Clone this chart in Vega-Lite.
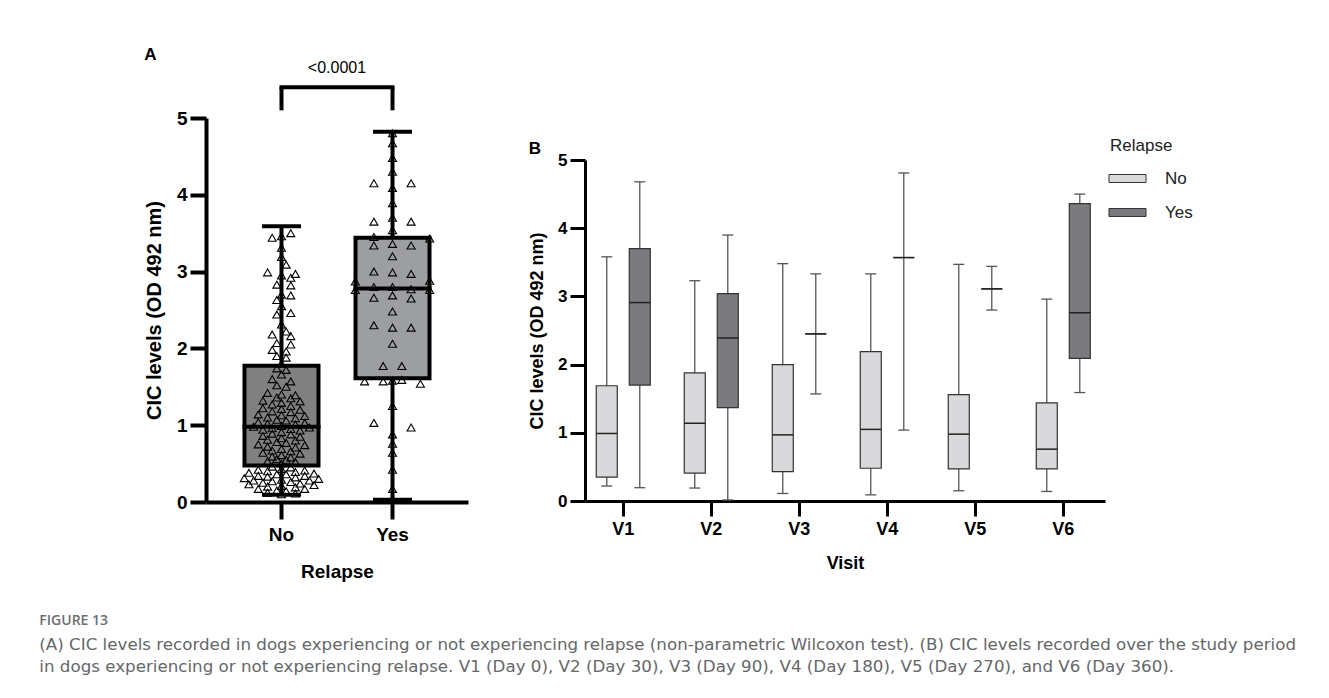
{
  "$schema": "https://vega.github.io/schema/vega-lite/v6.json",
  "width": 899,
  "height": 384,
  "autosize": {"type": "none"},
  "padding": {"left": 206, "top": 118, "right": 224, "bottom": 196},
  "background": "white",
  "config": {
    "view": {"stroke": null},
    "font": "Liberation Sans",
    "axis": {"grid": false}
  },
  "title": {
    "text": "FIGURE 13",
    "subtitle": [
      "(A) CIC levels recorded in dogs experiencing or not experiencing relapse (non-parametric Wilcoxon test). (B) CIC levels recorded over the study period",
      "in dogs experiencing or not experiencing relapse. V1 (Day 0), V2 (Day 30), V3 (Day 90), V4 (Day 180), V5 (Day 270), and V6 (Day 360)."
    ],
    "orient": "bottom",
    "anchor": "start",
    "frame": "bounds",
    "dx": -105,
    "offset": 33,
    "font": "Open Sans",
    "fontSize": 14,
    "fontWeight": 600,
    "color": "#6d6e71",
    "subtitleFont": "DejaVu Sans",
    "subtitleFontSize": 16.7,
    "subtitleFontWeight": "normal",
    "subtitleColor": "#666769",
    "subtitleLineHeight": 22,
    "subtitlePadding": 9
  },
  "datasets": {
    "boxA": [
      {"Relapse": "No", "min": 0.095, "q1": 0.476, "median": 0.98, "q3": 1.775, "max": 3.59},
      {"Relapse": "Yes", "min": 0.03, "q1": 1.61, "median": 2.78, "q3": 3.44, "max": 4.82}
    ],
    "pointsA": [
      {"Relapse": "No", "value": 3.50, "slot": 2}, {"Relapse": "No", "value": 3.44, "slot": -2}, {"Relapse": "No", "value": 3.46, "slot": 0},
      {"Relapse": "No", "value": 3.31, "slot": 0}, {"Relapse": "No", "value": 3.19, "slot": 0}, {"Relapse": "No", "value": 3.09, "slot": 1},
      {"Relapse": "No", "value": 2.99, "slot": -3}, {"Relapse": "No", "value": 2.97, "slot": 3}, {"Relapse": "No", "value": 2.95, "slot": 0},
      {"Relapse": "No", "value": 2.92, "slot": 2}, {"Relapse": "No", "value": 2.83, "slot": -1}, {"Relapse": "No", "value": 2.82, "slot": 2},
      {"Relapse": "No", "value": 2.70, "slot": 0}, {"Relapse": "No", "value": 2.69, "slot": 2}, {"Relapse": "No", "value": 2.63, "slot": -1},
      {"Relapse": "No", "value": 2.55, "slot": 0}, {"Relapse": "No", "value": 2.46, "slot": 2}, {"Relapse": "No", "value": 2.44, "slot": -1},
      {"Relapse": "No", "value": 2.31, "slot": 0}, {"Relapse": "No", "value": 2.22, "slot": 1}, {"Relapse": "No", "value": 2.18, "slot": -2},
      {"Relapse": "No", "value": 2.16, "slot": 2}, {"Relapse": "No", "value": 2.07, "slot": -1}, {"Relapse": "No", "value": 2.05, "slot": 2},
      {"Relapse": "No", "value": 1.98, "slot": -2}, {"Relapse": "No", "value": 1.96, "slot": 1}, {"Relapse": "No", "value": 1.90, "slot": -1},
      {"Relapse": "No", "value": 1.88, "slot": 1}, {"Relapse": "No", "value": 1.80, "slot": 0}, {"Relapse": "No", "value": 1.74, "slot": -1},
      {"Relapse": "No", "value": 1.72, "slot": 1}, {"Relapse": "No", "value": 1.66, "slot": 0}, {"Relapse": "No", "value": 1.60, "slot": -2},
      {"Relapse": "No", "value": 1.57, "slot": 2}, {"Relapse": "No", "value": 1.52, "slot": -1}, {"Relapse": "No", "value": 1.50, "slot": 1},
      {"Relapse": "No", "value": 1.42, "slot": -3}, {"Relapse": "No", "value": 1.40, "slot": 0}, {"Relapse": "No", "value": 1.39, "slot": 3},
      {"Relapse": "No", "value": 1.36, "slot": -1}, {"Relapse": "No", "value": 1.35, "slot": 2}, {"Relapse": "No", "value": 1.32, "slot": -4},
      {"Relapse": "No", "value": 1.31, "slot": 4}, {"Relapse": "No", "value": 1.29, "slot": 0}, {"Relapse": "No", "value": 1.27, "slot": -2},
      {"Relapse": "No", "value": 1.25, "slot": 2}, {"Relapse": "No", "value": 1.22, "slot": -4}, {"Relapse": "No", "value": 1.21, "slot": 0},
      {"Relapse": "No", "value": 1.20, "slot": 4}, {"Relapse": "No", "value": 1.18, "slot": -2}, {"Relapse": "No", "value": 1.17, "slot": 2},
      {"Relapse": "No", "value": 1.14, "slot": -5}, {"Relapse": "No", "value": 1.13, "slot": 0}, {"Relapse": "No", "value": 1.12, "slot": 5},
      {"Relapse": "No", "value": 1.10, "slot": -3}, {"Relapse": "No", "value": 1.09, "slot": 3}, {"Relapse": "No", "value": 1.07, "slot": -1},
      {"Relapse": "No", "value": 1.06, "slot": 1}, {"Relapse": "No", "value": 1.04, "slot": -5}, {"Relapse": "No", "value": 1.03, "slot": 5},
      {"Relapse": "No", "value": 1.02, "slot": -3}, {"Relapse": "No", "value": 1.01, "slot": 3}, {"Relapse": "No", "value": 0.99, "slot": 0},
      {"Relapse": "No", "value": 0.98, "slot": -6}, {"Relapse": "No", "value": 0.97, "slot": 6}, {"Relapse": "No", "value": 0.96, "slot": -2},
      {"Relapse": "No", "value": 0.95, "slot": 2}, {"Relapse": "No", "value": 0.94, "slot": -4}, {"Relapse": "No", "value": 0.93, "slot": 4},
      {"Relapse": "No", "value": 0.91, "slot": 0}, {"Relapse": "No", "value": 0.89, "slot": -2}, {"Relapse": "No", "value": 0.88, "slot": 2},
      {"Relapse": "No", "value": 0.86, "slot": -4}, {"Relapse": "No", "value": 0.85, "slot": 4}, {"Relapse": "No", "value": 0.83, "slot": 0},
      {"Relapse": "No", "value": 0.81, "slot": -3}, {"Relapse": "No", "value": 0.80, "slot": 3}, {"Relapse": "No", "value": 0.78, "slot": -1},
      {"Relapse": "No", "value": 0.77, "slot": 1}, {"Relapse": "No", "value": 0.75, "slot": -5}, {"Relapse": "No", "value": 0.74, "slot": 5},
      {"Relapse": "No", "value": 0.72, "slot": -3}, {"Relapse": "No", "value": 0.71, "slot": 3}, {"Relapse": "No", "value": 0.69, "slot": 0},
      {"Relapse": "No", "value": 0.67, "slot": -2}, {"Relapse": "No", "value": 0.66, "slot": 2}, {"Relapse": "No", "value": 0.64, "slot": -4},
      {"Relapse": "No", "value": 0.63, "slot": 4}, {"Relapse": "No", "value": 0.61, "slot": 0}, {"Relapse": "No", "value": 0.59, "slot": -2},
      {"Relapse": "No", "value": 0.58, "slot": 2}, {"Relapse": "No", "value": 0.56, "slot": -1}, {"Relapse": "No", "value": 0.55, "slot": 1},
      {"Relapse": "No", "value": 0.53, "slot": -3}, {"Relapse": "No", "value": 0.52, "slot": 3}, {"Relapse": "No", "value": 0.50, "slot": 0},
      {"Relapse": "No", "value": 0.46, "slot": -2}, {"Relapse": "No", "value": 0.45, "slot": 2}, {"Relapse": "No", "value": 0.43, "slot": 0},
      {"Relapse": "No", "value": 0.42, "slot": -5}, {"Relapse": "No", "value": 0.41, "slot": 5}, {"Relapse": "No", "value": 0.40, "slot": -3},
      {"Relapse": "No", "value": 0.39, "slot": 3}, {"Relapse": "No", "value": 0.38, "slot": -7}, {"Relapse": "No", "value": 0.37, "slot": 7},
      {"Relapse": "No", "value": 0.36, "slot": -1}, {"Relapse": "No", "value": 0.36, "slot": 1}, {"Relapse": "No", "value": 0.34, "slot": -5},
      {"Relapse": "No", "value": 0.34, "slot": 5}, {"Relapse": "No", "value": 0.33, "slot": -3}, {"Relapse": "No", "value": 0.32, "slot": 3},
      {"Relapse": "No", "value": 0.31, "slot": -8}, {"Relapse": "No", "value": 0.30, "slot": 8}, {"Relapse": "No", "value": 0.29, "slot": 0},
      {"Relapse": "No", "value": 0.28, "slot": -6}, {"Relapse": "No", "value": 0.28, "slot": 6}, {"Relapse": "No", "value": 0.27, "slot": -2},
      {"Relapse": "No", "value": 0.26, "slot": 2}, {"Relapse": "No", "value": 0.25, "slot": -4}, {"Relapse": "No", "value": 0.24, "slot": 4},
      {"Relapse": "No", "value": 0.23, "slot": -7}, {"Relapse": "No", "value": 0.22, "slot": 7}, {"Relapse": "No", "value": 0.21, "slot": 0},
      {"Relapse": "No", "value": 0.20, "slot": -3}, {"Relapse": "No", "value": 0.19, "slot": 3}, {"Relapse": "No", "value": 0.17, "slot": -5},
      {"Relapse": "No", "value": 0.17, "slot": 5}, {"Relapse": "No", "value": 0.15, "slot": -1}, {"Relapse": "No", "value": 0.14, "slot": 1},
      {"Relapse": "No", "value": 0.12, "slot": -3}, {"Relapse": "No", "value": 0.11, "slot": 3}, {"Relapse": "No", "value": 0.10, "slot": 0},
      {"Relapse": "Yes", "value": 4.80, "slot": 0}, {"Relapse": "Yes", "value": 4.67, "slot": 0}, {"Relapse": "Yes", "value": 4.48, "slot": 0},
      {"Relapse": "Yes", "value": 4.30, "slot": 0}, {"Relapse": "Yes", "value": 4.09, "slot": 0}, {"Relapse": "Yes", "value": 3.89, "slot": 0},
      {"Relapse": "Yes", "value": 3.70, "slot": 0}, {"Relapse": "Yes", "value": 3.54, "slot": 0}, {"Relapse": "Yes", "value": 3.36, "slot": 0},
      {"Relapse": "Yes", "value": 3.20, "slot": 0}, {"Relapse": "Yes", "value": 2.99, "slot": 0}, {"Relapse": "Yes", "value": 2.80, "slot": 0},
      {"Relapse": "Yes", "value": 2.69, "slot": 0}, {"Relapse": "Yes", "value": 2.48, "slot": 0}, {"Relapse": "Yes", "value": 2.27, "slot": 0},
      {"Relapse": "Yes", "value": 2.06, "slot": 0}, {"Relapse": "Yes", "value": 1.58, "slot": 0}, {"Relapse": "Yes", "value": 1.25, "slot": 0},
      {"Relapse": "Yes", "value": 0.88, "slot": 0}, {"Relapse": "Yes", "value": 0.76, "slot": 0}, {"Relapse": "Yes", "value": 0.64, "slot": 0},
      {"Relapse": "Yes", "value": 0.42, "slot": 0}, {"Relapse": "Yes", "value": 0.17, "slot": 0}, {"Relapse": "Yes", "value": 0.04, "slot": 0},
      {"Relapse": "Yes", "value": 4.15, "slot": -4}, {"Relapse": "Yes", "value": 3.65, "slot": -4}, {"Relapse": "Yes", "value": 3.45, "slot": -4},
      {"Relapse": "Yes", "value": 3.34, "slot": -4}, {"Relapse": "Yes", "value": 3.00, "slot": -4}, {"Relapse": "Yes", "value": 2.80, "slot": -4},
      {"Relapse": "Yes", "value": 2.66, "slot": -4}, {"Relapse": "Yes", "value": 2.30, "slot": -4}, {"Relapse": "Yes", "value": 1.03, "slot": -4},
      {"Relapse": "Yes", "value": 4.15, "slot": 4}, {"Relapse": "Yes", "value": 3.65, "slot": 4}, {"Relapse": "Yes", "value": 3.34, "slot": 4},
      {"Relapse": "Yes", "value": 2.97, "slot": 4}, {"Relapse": "Yes", "value": 2.77, "slot": 4}, {"Relapse": "Yes", "value": 2.65, "slot": 4},
      {"Relapse": "Yes", "value": 2.27, "slot": 4}, {"Relapse": "Yes", "value": 0.97, "slot": 4},
      {"Relapse": "Yes", "value": 1.77, "slot": -2}, {"Relapse": "Yes", "value": 1.57, "slot": -2}, {"Relapse": "Yes", "value": 1.77, "slot": 2},
      {"Relapse": "Yes", "value": 1.59, "slot": 2}, {"Relapse": "Yes", "value": 1.57, "slot": -6}, {"Relapse": "Yes", "value": 1.54, "slot": 6},
      {"Relapse": "Yes", "value": 2.87, "slot": -8}, {"Relapse": "Yes", "value": 2.76, "slot": -8}, {"Relapse": "Yes", "value": 3.43, "slot": 8},
      {"Relapse": "Yes", "value": 2.88, "slot": 8}, {"Relapse": "Yes", "value": 2.76, "slot": 8}
    ],
    "boxB": [
      {"Visit": "V1", "Relapse": "No", "min": 0.22, "q1": 0.35, "median": 0.99, "q3": 1.69, "max": 3.58},
      {"Visit": "V1", "Relapse": "Yes", "min": 0.195, "q1": 1.70, "median": 2.91, "q3": 3.70, "max": 4.68},
      {"Visit": "V2", "Relapse": "No", "min": 0.19, "q1": 0.41, "median": 1.14, "q3": 1.88, "max": 3.23},
      {"Visit": "V2", "Relapse": "Yes", "min": 0.015, "q1": 1.37, "median": 2.39, "q3": 3.04, "max": 3.90},
      {"Visit": "V3", "Relapse": "No", "min": 0.11, "q1": 0.43, "median": 0.97, "q3": 2.00, "max": 3.48},
      {"Visit": "V3", "Relapse": "Yes", "min": 1.57, "q1": 2.45, "median": 2.45, "q3": 2.45, "max": 3.33},
      {"Visit": "V4", "Relapse": "No", "min": 0.09, "q1": 0.48, "median": 1.05, "q3": 2.19, "max": 3.33},
      {"Visit": "V4", "Relapse": "Yes", "min": 1.04, "q1": 3.57, "median": 3.57, "q3": 3.57, "max": 4.81},
      {"Visit": "V5", "Relapse": "No", "min": 0.15, "q1": 0.47, "median": 0.98, "q3": 1.56, "max": 3.47},
      {"Visit": "V5", "Relapse": "Yes", "min": 2.80, "q1": 3.11, "median": 3.11, "q3": 3.11, "max": 3.44},
      {"Visit": "V6", "Relapse": "No", "min": 0.14, "q1": 0.47, "median": 0.76, "q3": 1.44, "max": 2.96},
      {"Visit": "V6", "Relapse": "Yes", "min": 1.59, "q1": 2.09, "median": 2.76, "q3": 4.36, "max": 4.50}
    ]
  },
  "layer": [
    {
      "encoding": {
        "x": {
          "field": "Relapse",
          "type": "nominal",
          "scale": {"domain": ["No", "Yes"], "range": [0, 262], "paddingInner": 0.33, "paddingOuter": 0.345},
          "axis": {
            "orient": "bottom", "title": "Relapse", "labelAngle": 0,
            "domainColor": "#000", "domainWidth": 4, "tickColor": "#000", "tickWidth": 4, "tickSize": 17,
            "labelFontSize": 19, "labelFontWeight": "bold", "labelColor": "#000", "labelPadding": 6,
            "titleFontSize": 19, "titleFontWeight": "bold", "titleColor": "#000", "titlePadding": 18
          }
        }
      },
      "layer": [
        {
          "data": {"name": "boxA"},
          "mark": {"type": "rule", "color": "#000", "strokeWidth": 4},
          "encoding": {
            "y": {
              "field": "min", "type": "quantitative", "scale": {"domain": [0, 5]},
              "axis": {
                "orient": "left", "values": [0, 1, 2, 3, 4, 5], "format": "d", "title": "CIC levels (OD 492 nm)",
                "domainColor": "#000", "domainWidth": 4, "tickColor": "#000", "tickWidth": 4, "tickSize": 16,
                "labelFontSize": 19, "labelFontWeight": "bold", "labelColor": "#000", "labelPadding": 3,
                "titleFontSize": 20, "titleFontWeight": "bold", "titleColor": "#000", "titlePadding": 12
              }
            },
            "y2": {"field": "max"}
          }
        },
        {
          "data": {"name": "boxA"},
          "mark": {"type": "bar", "stroke": "#000", "strokeWidth": 4, "width": 74},
          "encoding": {
            "y": {"field": "q1", "type": "quantitative", "scale": {"domain": [0, 5]}},
            "y2": {"field": "q3"},
            "fill": {"field": "Relapse", "type": "nominal", "scale": {"domain": ["No", "Yes"], "range": ["#808080", "#9c9ea2"]}, "legend": null}
          }
        },
        {
          "data": {"name": "boxA"},
          "mark": {"type": "tick", "color": "#000", "size": 39, "thickness": 4, "opacity": 1},
          "encoding": {"y": {"field": "max", "type": "quantitative", "scale": {"domain": [0, 5]}}}
        },
        {
          "data": {"name": "boxA"},
          "mark": {"type": "tick", "color": "#000", "size": 39, "thickness": 4, "opacity": 1},
          "encoding": {"y": {"field": "min", "type": "quantitative", "scale": {"domain": [0, 5]}}}
        },
        {
          "data": {"name": "pointsA"},
          "mark": {"type": "point", "shape": "triangle-up", "size": 64, "filled": false, "stroke": "#000", "strokeWidth": 1.1, "opacity": 1},
          "encoding": {
            "xOffset": {"field": "slot", "type": "ordinal", "scale": {"domain": [-8, -7, -6, -5, -4, -3, -2, -1, 0, 1, 2, 3, 4, 5, 6, 7, 8], "paddingInner": 0, "paddingOuter": 0}},
            "y": {"field": "value", "type": "quantitative", "scale": {"domain": [0, 5]}}
          }
        },
        {
          "data": {"name": "boxA"},
          "mark": {"type": "tick", "color": "#000", "size": 78, "thickness": 4, "opacity": 1},
          "encoding": {"y": {"field": "median", "type": "quantitative", "scale": {"domain": [0, 5]}}}
        },
        {
          "data": {"values": [{}]},
          "mark": {"type": "rule", "color": "#000", "strokeWidth": 4, "strokeCap": "square"},
          "encoding": {
            "x": {"datum": "No", "type": "nominal"},
            "x2": {"datum": "Yes"},
            "y": {"datum": 5.4, "type": "quantitative", "scale": {"domain": [0, 5]}}
          }
        },
        {
          "data": {"values": [{}]},
          "mark": {"type": "rule", "color": "#000", "strokeWidth": 4},
          "encoding": {
            "x": {"datum": "No", "type": "nominal"},
            "y": {"datum": 5.1, "type": "quantitative", "scale": {"domain": [0, 5]}},
            "y2": {"datum": 5.4}
          }
        },
        {
          "data": {"values": [{}]},
          "mark": {"type": "rule", "color": "#000", "strokeWidth": 4},
          "encoding": {
            "x": {"datum": "Yes", "type": "nominal"},
            "y": {"datum": 5.1, "type": "quantitative", "scale": {"domain": [0, 5]}},
            "y2": {"datum": 5.4}
          }
        },
        {
          "data": {"values": [{}]},
          "mark": {"type": "text", "text": "<0.0001", "fontSize": 16, "color": "#000", "align": "center", "baseline": "alphabetic", "dx": 55.5},
          "encoding": {
            "x": {"datum": "No", "type": "nominal"},
            "y": {"datum": 5.58, "type": "quantitative", "scale": {"domain": [0, 5]}}
          }
        },
        {
          "data": {"values": [{}]},
          "mark": {"type": "text", "text": "A", "fontSize": 17, "fontWeight": "bold", "color": "#000", "align": "center", "baseline": "alphabetic", "dx": -131},
          "encoding": {
            "x": {"datum": "No", "type": "nominal"},
            "y": {"datum": 5.75, "type": "quantitative", "scale": {"domain": [0, 5]}}
          }
        }
      ]
    },
    {
      "encoding": {
        "x": {
          "field": "Visit",
          "type": "nominal",
          "scale": {"domain": ["V1", "V2", "V3", "V4", "V5", "V6"], "range": [379, 899], "paddingInner": 0.2, "paddingOuter": 0.0545, "align": 0.32},
          "axis": {
            "orient": "bottom", "offset": -1, "title": "Visit", "labelAngle": 0,
            "domainColor": "#000", "domainWidth": 3, "tickColor": "#000", "tickWidth": 3, "tickSize": 15,
            "labelFontSize": 18, "labelFontWeight": "bold", "labelColor": "#000", "labelPadding": 4,
            "titleFontSize": 18, "titleFontWeight": "bold", "titleColor": "#000", "titlePadding": 16
          }
        }
      },
      "layer": [
        {
          "data": {"name": "boxB"},
          "mark": {"type": "rule", "color": "#555", "strokeWidth": 1.3},
          "encoding": {
            "xOffset": {"field": "Relapse", "type": "nominal", "scale": {"domain": ["No", "Yes"], "paddingInner": 0.364, "paddingOuter": 0.248}},
            "y": {
              "field": "min", "type": "quantitative", "scale": {"domain": [0, 5], "range": [383, 42]},
              "axis": {
                "orient": "left", "offset": -379, "values": [0, 1, 2, 3, 4, 5], "format": "d", "title": "CIC levels (OD 492 nm)",
                "domainColor": "#000", "domainWidth": 3, "tickColor": "#000", "tickWidth": 3, "tickSize": 15,
                "labelFontSize": 17, "labelFontWeight": "bold", "labelColor": "#000", "labelPadding": 3,
                "titleFontSize": 18, "titleFontWeight": "bold", "titleColor": "#000", "titlePadding": 11
              }
            },
            "y2": {"field": "max"}
          }
        },
        {
          "data": {"name": "boxB"},
          "mark": {"type": "bar", "stroke": "#333", "strokeWidth": 1.2},
          "encoding": {
            "xOffset": {"field": "Relapse", "type": "nominal", "scale": {"domain": ["No", "Yes"], "paddingInner": 0.364, "paddingOuter": 0.248}},
            "y": {"field": "q1", "type": "quantitative", "scale": {"domain": [0, 5], "range": [383, 42]}},
            "y2": {"field": "q3"},
            "fill": {
              "field": "Relapse", "type": "nominal",
              "scale": {"domain": ["No", "Yes"], "range": ["#d9d9db", "#7b7b7f"]},
              "legend": {
                "title": "Relapse", "orient": "none", "legendX": 904, "legendY": 20,
                "symbolType": "M-1.09,-0.235H1.09V0.235H-1.09Z", "symbolSize": 1156,
                "symbolStrokeColor": "#333", "symbolStrokeWidth": 1,
                "titleFont": "Liberation Sans", "titleFontSize": 17, "titleFontWeight": "normal", "titleColor": "#222", "titlePadding": 6,
                "labelFont": "Liberation Sans", "labelFontSize": 17, "labelColor": "#222", "labelOffset": 20,
                "rowPadding": 8, "padding": 0
              }
            }
          }
        },
        {
          "data": {"name": "boxB"},
          "mark": {"type": "tick", "color": "#555", "size": 11, "thickness": 1.3, "opacity": 1},
          "encoding": {
            "xOffset": {"field": "Relapse", "type": "nominal", "scale": {"domain": ["No", "Yes"], "paddingInner": 0.364, "paddingOuter": 0.248}},
            "y": {"field": "max", "type": "quantitative", "scale": {"domain": [0, 5], "range": [383, 42]}}
          }
        },
        {
          "data": {"name": "boxB"},
          "mark": {"type": "tick", "color": "#555", "size": 11, "thickness": 1.3, "opacity": 1},
          "encoding": {
            "xOffset": {"field": "Relapse", "type": "nominal", "scale": {"domain": ["No", "Yes"], "paddingInner": 0.364, "paddingOuter": 0.248}},
            "y": {"field": "min", "type": "quantitative", "scale": {"domain": [0, 5], "range": [383, 42]}}
          }
        },
        {
          "data": {"name": "boxB"},
          "mark": {"type": "tick", "color": "#222", "size": 21, "thickness": 1.5, "opacity": 1},
          "encoding": {
            "xOffset": {"field": "Relapse", "type": "nominal", "scale": {"domain": ["No", "Yes"], "paddingInner": 0.364, "paddingOuter": 0.248}},
            "y": {"field": "median", "type": "quantitative", "scale": {"domain": [0, 5], "range": [383, 42]}}
          }
        },
        {
          "data": {"values": [{}]},
          "mark": {"type": "text", "text": "B", "fontSize": 17, "fontWeight": "bold", "color": "#000", "align": "center", "baseline": "alphabetic", "dx": -88.5},
          "encoding": {
            "x": {"datum": "V1", "type": "nominal"},
            "y": {"datum": 5.09, "type": "quantitative", "scale": {"domain": [0, 5], "range": [383, 42]}}
          }
        }
      ]
    }
  ],
  "resolve": {
    "scale": {"x": "independent", "y": "independent", "xOffset": "independent", "fill": "independent"},
    "axis": {"x": "independent", "y": "independent"}
  }
}
